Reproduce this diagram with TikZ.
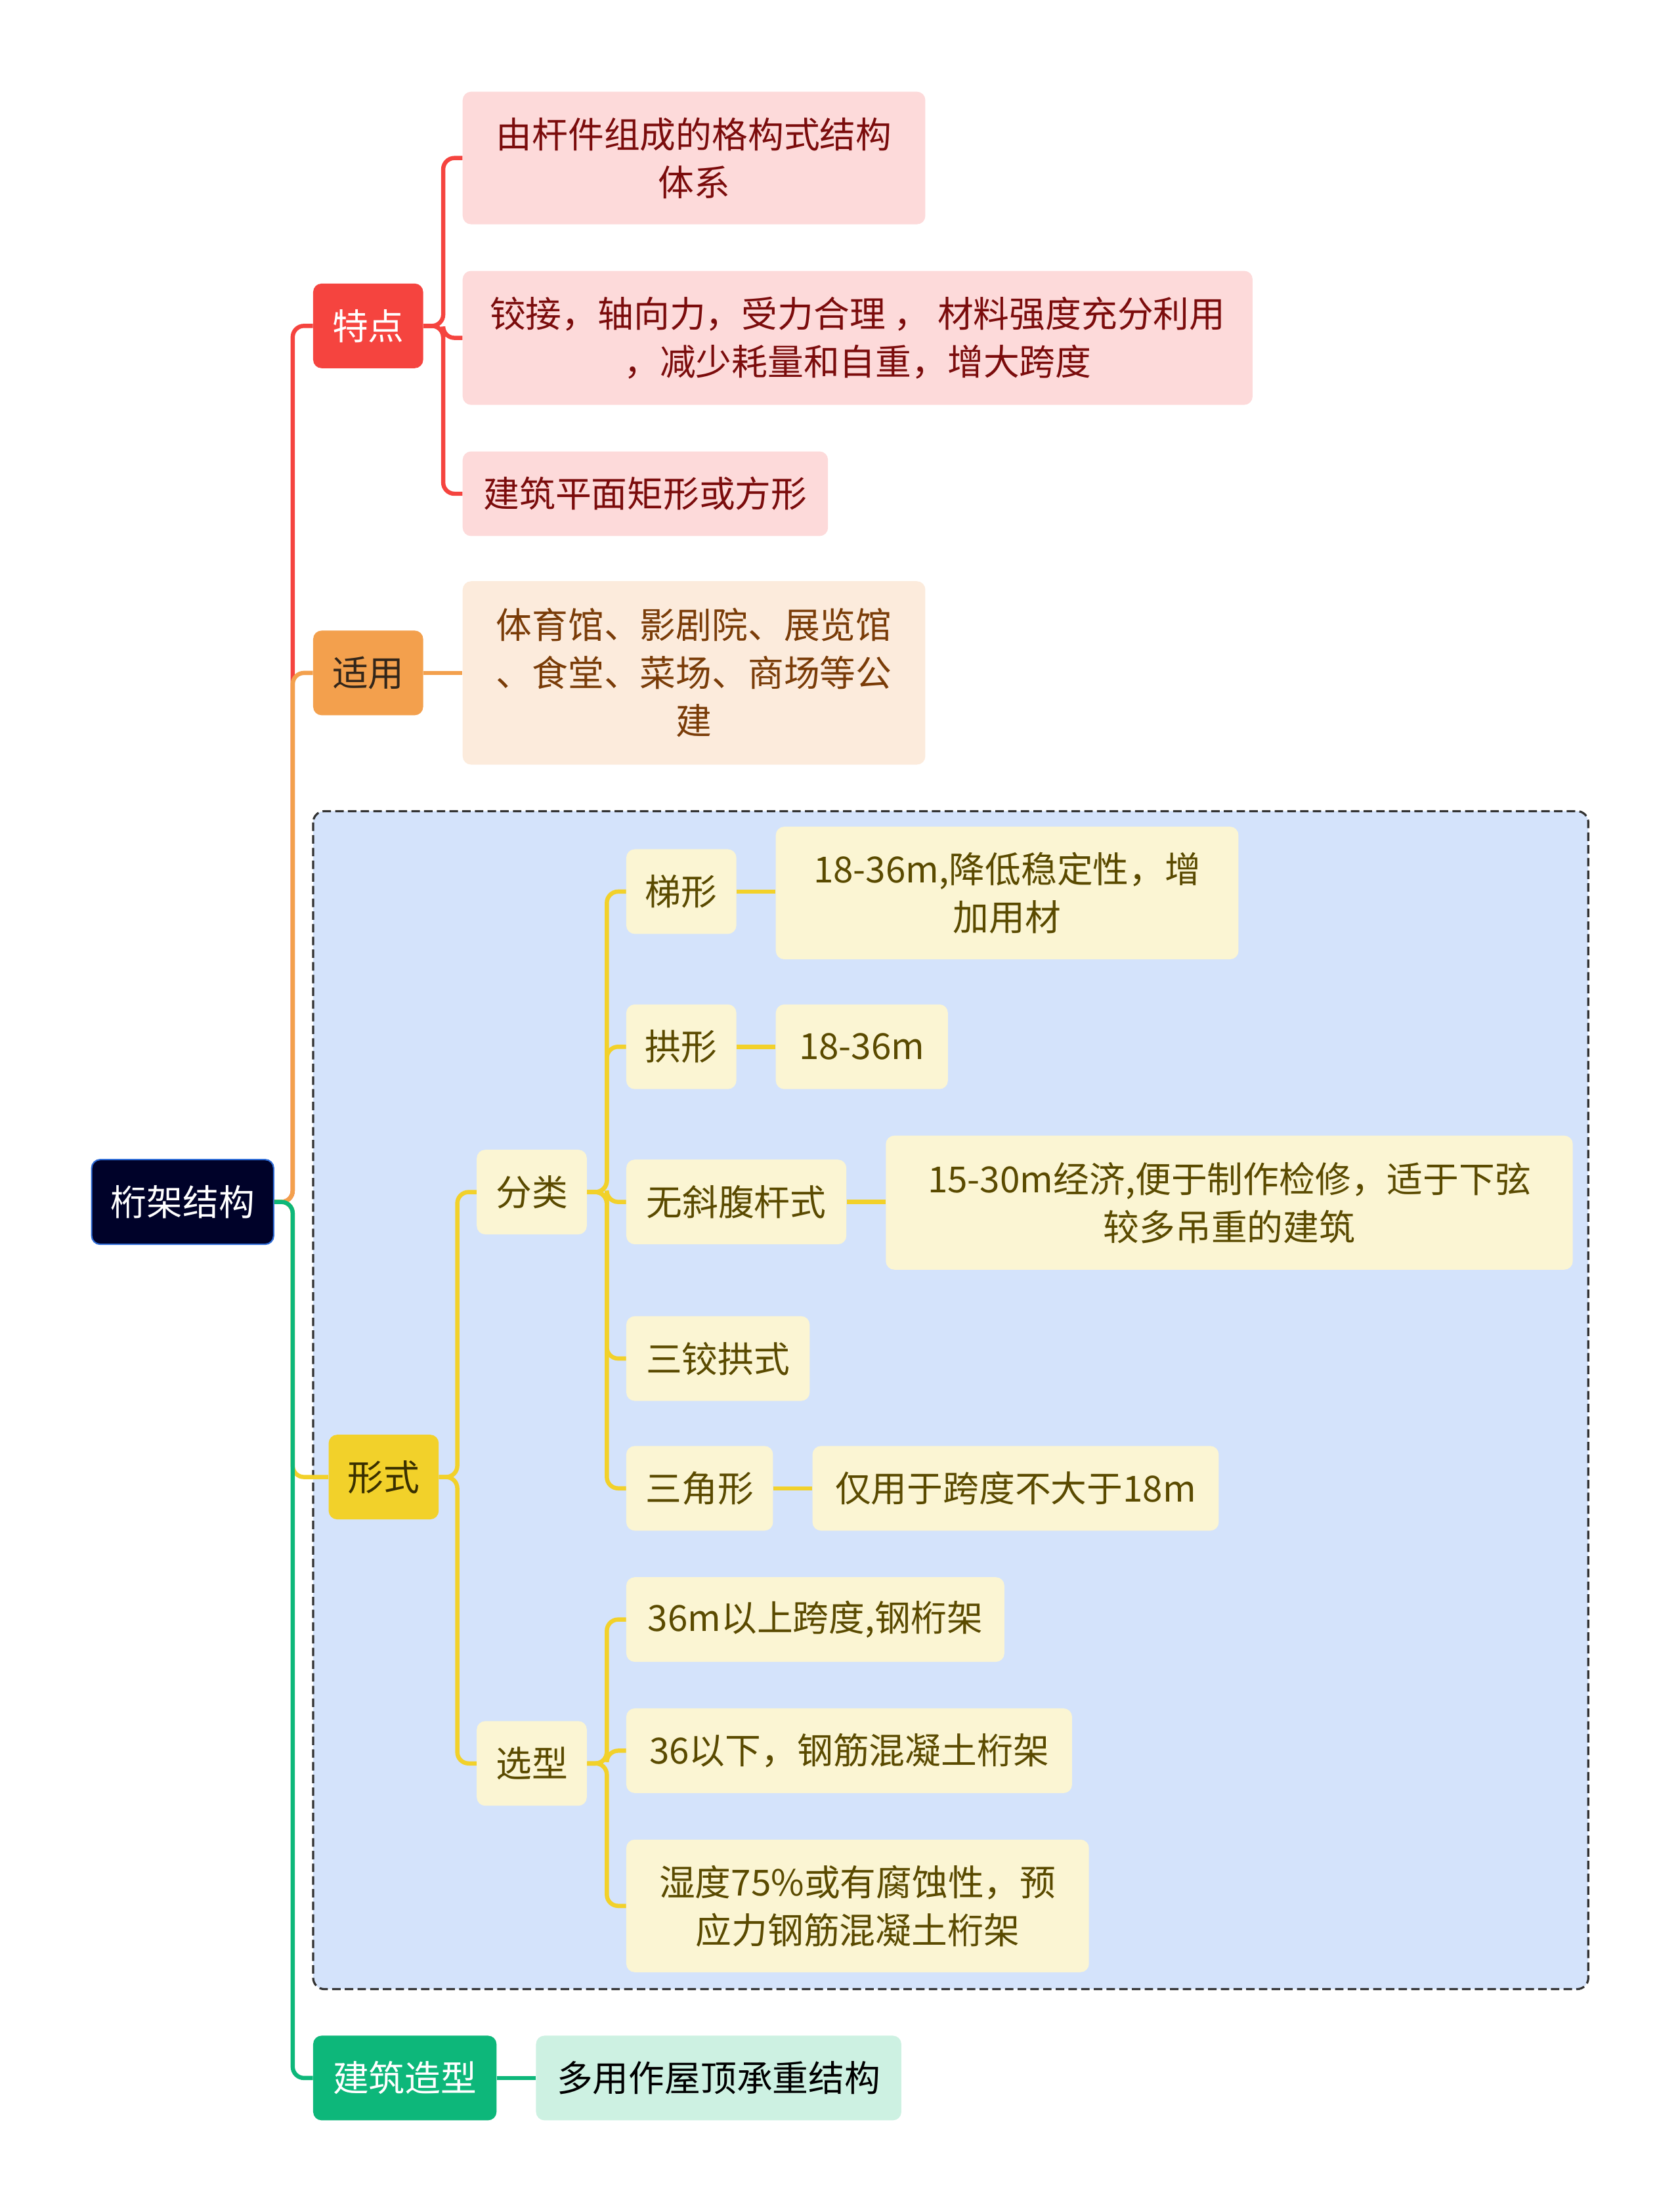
\documentclass[tikz,border=0pt]{standalone}
\usepackage{fontspec}
\setmainfont{Noto Sans CJK SC}
\begin{document}
\begin{tikzpicture}[x=1pt,y=-1pt,
  box/.style={rectangle,rounded corners=6pt,align=center,inner sep=0pt,
    minimum height=60pt,font=\fontsize{25.5}{34}\selectfont},
  redhead/.style={box,fill=tdred,text=white},
  redleaf/.style={box,fill=tdpink,text=tdtext},
  orahead/.style={box,fill=syorange,text=sytext},
  oraleaf/.style={box,fill=sypeach,text=syleaf},
  yelhead/.style={box,fill=xsyellow,text=xstext},
  yelleaf/.style={box,fill=xscream,text=xsleaf},
  grnhead/.style={box,fill=zxgreen,text=white},
  grnleaf/.style={box,fill=zxmint,text=black},
  link/.style={line width=3pt,rounded corners=8pt}]
\definecolor{tdred}{HTML}{F5443F}
\definecolor{tdpink}{HTML}{FDDADA}
\definecolor{tdtext}{HTML}{7B0C0C}
\definecolor{syorange}{HTML}{F3A04D}
\definecolor{sypeach}{HTML}{FCEBDC}
\definecolor{sytext}{HTML}{33261A}
\definecolor{syleaf}{HTML}{7A3C08}
\definecolor{xsyellow}{HTML}{F2D12A}
\definecolor{xscream}{HTML}{FBF5D3}
\definecolor{xstext}{HTML}{3A3000}
\definecolor{xsleaf}{HTML}{5A4A00}
\definecolor{zxgreen}{HTML}{0DB77A}
\definecolor{zxmint}{HTML}{CDF1E2}
\definecolor{rootnavy}{HTML}{000229}
\definecolor{rootblue}{HTML}{2E6BD6}
\definecolor{groupblue}{HTML}{D4E3FB}
\useasboundingbox (0,0) rectangle (1191,1568);

% dashed group round the form branch
\draw[fill=groupblue,draw=black!80,line width=1.5pt,dash pattern=on 6pt off 3pt,rounded corners=8pt]
  (222,575) rectangle (1126,1410);

% root and main branches
\node[box,fill=rootnavy,draw=rootblue,line width=1pt,text=white,minimum width=129pt] (root) at (129.5,852) {桁架结构};
\node[redhead,minimum width=78pt] (tedian) at (261,231) {特点};
\node[orahead,minimum width=78pt] (shiyong) at (261,477) {适用};
\node[yelhead,minimum width=78pt] (xingshi) at (272,1047) {形式};
\node[grnhead,minimum width=130pt] (zaoxing) at (287,1473) {建筑造型};

% features
\node[redleaf,minimum width=328pt,minimum height=94pt] (td1) at (492,112) {由杆件组成的格构式结构\\体系};
\node[redleaf,minimum width=560pt,minimum height=95pt] (td2) at (608,239.5) {铰接，轴向力，受力合理 ， 材料强度充分利用\\，减少耗量和自重，增大跨度};
\node[redleaf,minimum width=259pt] (td3) at (457.5,350) {建筑平面矩形或方形};

% use
\node[oraleaf,minimum width=328pt,minimum height=130pt] (sy1) at (492,477) {体育馆、影剧院、展览馆\\、食堂、菜场、商场等公\\建};

% form
\node[yelleaf,minimum width=78pt] (fenlei) at (377,845) {分类};
\node[yelleaf,minimum width=78pt] (xuanxing) at (377,1250) {选型};

\node[yelleaf,minimum width=78pt] (tixing) at (483,632) {梯形};
\node[yelleaf,minimum width=328pt,minimum height=94pt] (tixing1) at (714,633) {18-36m,降低稳定性，增\\加用材};
\node[yelleaf,minimum width=78pt] (gongxing) at (483,742) {拱形};
\node[yelleaf,minimum width=122pt] (gongxing1) at (611,742) {18-36m};
\node[yelleaf,minimum width=156pt] (wuxie) at (522,852) {无斜腹杆式};
\node[yelleaf,minimum width=487pt,minimum height=95pt] (wuxie1) at (871.5,852.5) {15-30m经济,便于制作检修，适于下弦\\较多吊重的建筑};
\node[yelleaf,minimum width=130pt] (sanjiao) at (509,963) {三铰拱式};
\node[yelleaf,minimum width=104pt] (sanjx) at (496,1055) {三角形};
\node[yelleaf,minimum width=288pt] (sanjx1) at (720,1055) {仅用于跨度不大于18m};

\node[yelleaf,minimum width=268pt] (xx1) at (578,1148) {36m以上跨度,钢桁架};
\node[yelleaf,minimum width=316pt] (xx2) at (602,1241) {36以下，钢筋混凝土桁架};
\node[yelleaf,minimum width=328pt,minimum height=94pt] (xx3) at (608,1351) {湿度75\%或有腐蚀性，预\\应力钢筋混凝土桁架};

% shape
\node[grnleaf,minimum width=259pt] (zx1) at (509.5,1473) {多用作屋顶承重结构};

% connectors
\draw[link,tdred] (root.east) -- ++(13,0) |- (tedian.west);
\draw[link,syorange] (root.east) -- ++(13,0) |- (shiyong.west);
\draw[link,xsyellow] (root.east) -- ++(13,0) |- (xingshi.west);
\draw[link,zxgreen] (root.east) -- ++(13,0) |- (zaoxing.west);

\foreach \n in {td1,td2,td3}
  \draw[link,tdred] (tedian.east) -- ++(14,0) |- (\n.west);
\draw[link,syorange] (shiyong.east) -- (sy1.west);
\draw[link,zxgreen] (zaoxing.east) -- (zx1.west);

\foreach \n in {fenlei,xuanxing}
  \draw[link,xsyellow] (xingshi.east) -- ++(13,0) |- (\n.west);
\foreach \n in {tixing,gongxing,wuxie,sanjiao,sanjx}
  \draw[link,xsyellow] (fenlei.east) -- ++(14,0) |- (\n.west);
\foreach \n in {xx1,xx2,xx3}
  \draw[link,xsyellow] (xuanxing.east) -- ++(14,0) |- (\n.west);
\draw[link,xsyellow] (tixing.east) -- (tixing.east -| tixing1.west);
\draw[link,xsyellow] (gongxing.east) -- (gongxing1.west);
\draw[link,xsyellow] (wuxie.east) -- (wuxie.east -| wuxie1.west);
\draw[link,xsyellow] (sanjx.east) -- (sanjx1.west);
\end{tikzpicture}
\end{document}
